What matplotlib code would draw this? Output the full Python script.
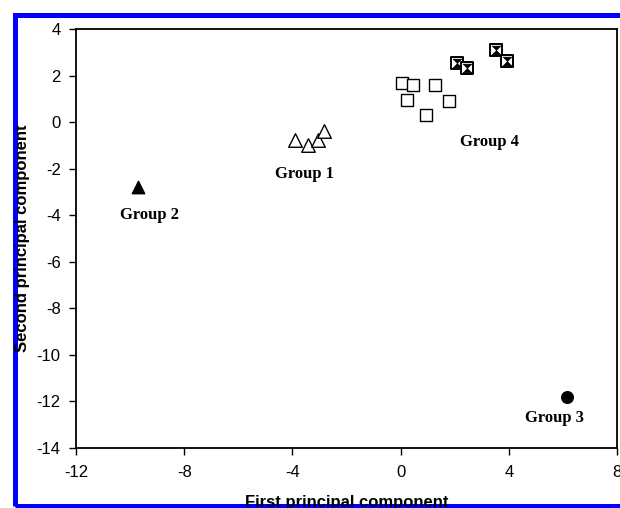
import matplotlib

matplotlib.use("Agg")
import matplotlib.pyplot as plt  # noqa: E402
from matplotlib.patches import Rectangle  # noqa: E402
from matplotlib.path import Path  # noqa: E402

# Group 1 (open triangles)
group1_x = [-3.90, -3.42, -3.05, -2.85]
group1_y = [-0.74, -0.96, -0.74, -0.37]

# Group 2 (filled triangle)
group2_x = [-9.7]
group2_y = [-2.78]

# Group 3 (filled circle)
group3_x = [6.15]
group3_y = [-11.8]

# Group 4: open squares and boxed hourglass squares
group4_open_x = [0.06, 0.45, 1.29, 0.22, 1.78, 0.95]
group4_open_y = [1.71, 1.59, 1.62, 0.98, 0.90, 0.30]
group4_boxed_x = [2.07, 2.44, 3.54, 3.94]
group4_boxed_y = [2.55, 2.34, 3.13, 2.64]

group_labels = ["Group 1", "Group 2", "Group 3", "Group 4"]
label_x = [-3.55, -9.3, 5.7, 3.3]
label_y = [-2.2, -4.0, -12.7, -0.85]

x_ticks = [-12, -8, -4, 0, 4, 8]
y_ticks = [4, 2, 0, -2, -4, -6, -8, -10, -12, -14]

W, H = 620, 508
fig = plt.figure(figsize=(W / 100, H / 100), dpi=100)
fig.patch.set_facecolor("white")

# blue frame around the figure (right side runs off the picture)
border = Rectangle(
    (14.5 / W, 2.5 / H),
    (W + 20) / W,
    (H - 17) / H,
    transform=fig.transFigure,
    fill=False,
    edgecolor="#0000ff",
    linewidth=5 * 72 / 100,
    zorder=-1,
)
fig.add_artist(border)

left, right, top, bottom = 76, 617, 29.3, 448
ax = fig.add_axes(
    [left / W, 1 - bottom / H, (right - left) / W, (bottom - top) / H]
)

# hourglass marker drawn inside the boxed squares
hourglass = Path(
    [(-1, 1), (1, 1), (0, 0), (-1, 1), (-1, -1), (1, -1), (0, 0), (-1, -1)],
    [Path.MOVETO, Path.LINETO, Path.LINETO, Path.CLOSEPOLY,
     Path.MOVETO, Path.LINETO, Path.LINETO, Path.CLOSEPOLY],
)

ax.scatter(group1_x, group1_y, marker="^", s=95, facecolor="white",
           edgecolor="black", linewidth=1.0, zorder=3)
ax.scatter(group2_x, group2_y, marker="^", s=80, facecolor="black",
           edgecolor="black", zorder=3)
ax.scatter(group3_x, group3_y, marker="o", s=70, facecolor="black",
           edgecolor="black", zorder=3)
ax.scatter(group4_open_x, group4_open_y, marker="s", s=75,
           facecolor="white", edgecolor="black", linewidth=1.0, zorder=3)
ax.scatter(group4_boxed_x, group4_boxed_y, marker="s", s=75,
           facecolor="white", edgecolor="black", linewidth=1.4, zorder=3)
ax.scatter(group4_boxed_x, group4_boxed_y, marker=hourglass, s=40,
           facecolor="black", edgecolor="black", linewidth=0.4, zorder=4)

for text, tx, ty in zip(group_labels, label_x, label_y):
    ax.text(tx, ty, text, ha="center", va="center", fontsize=12,
            fontweight="bold", family="Liberation Serif")

ax.set_xlim(-12, 8)
ax.set_ylim(-14, 4)
ax.set_xticks(x_ticks)
ax.set_yticks(y_ticks)
ax.set_xticklabels([str(t) for t in x_ticks], family="Liberation Sans",
                   fontsize=12)
ax.set_yticklabels([str(t) for t in y_ticks], family="Liberation Sans",
                   fontsize=12)
ax.tick_params(direction="out", length=5, width=1, pad=6, color="black")
ax.tick_params(axis="x", pad=7)

for spine in ax.spines.values():
    spine.set_linewidth(1.3)

ax.set_xlabel("First principal component", family="Liberation Sans",
              fontsize=12, fontweight="bold")
ax.set_ylabel("Second principal component", family="Liberation Sans",
              fontsize=12, fontweight="bold")
ax.xaxis.set_label_coords(0.5, -(495 - bottom) / (bottom - top))
ax.yaxis.set_label_coords(-(left - 15) / (right - left), 0.5)
ax.yaxis.label.set_va("top")

fig.savefig("out.png", dpi=100)
